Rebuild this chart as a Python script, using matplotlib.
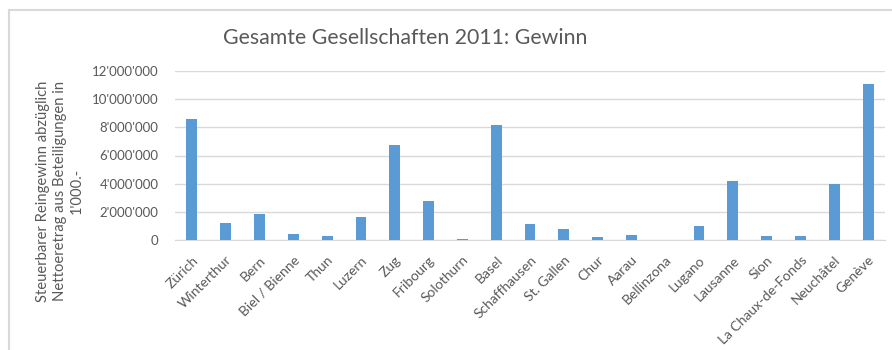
import matplotlib
matplotlib.use("Agg")
import matplotlib.pyplot as plt
from matplotlib.lines import Line2D
from matplotlib.ticker import FuncFormatter
from matplotlib.transforms import ScaledTranslation

# --- DATA ---
cities = ["Zürich", "Winterthur", "Bern", "Biel / Bienne", "Thun", "Luzern", "Zug",
          "Fribourg", "Solothurn", "Basel", "Schaffhausen", "St. Gallen", "Chur",
          "Aarau", "Bellinzona", "Lugano", "Lausanne", "Sion", "La Chaux-de-Fonds",
          "Neuchâtel", "Genève"]
gewinn = [8590000, 1180000, 1820000, 430000, 260000, 1630000, 6720000,
          2750000, 70000, 8170000, 1160000, 780000, 240000,
          360000, 0, 990000, 4170000, 280000, 310000,
          3950000, 11100000]
y_ticks = [0, 2000000, 4000000, 6000000, 8000000, 10000000, 12000000]

title = "Gesamte Gesellschaften 2011: Gewinn"
y_label = "Steuerbarer Reingewinn abzüglich\nNettoeretrag aus Beteiligungen in\n1'000.-"

plt.rcParams['font.family'] = ['Lato', 'DejaVu Sans']
text_grey = '#595959'
bar_blue = '#5B9BD5'
grid_grey = '#D9D9D9'

fig = plt.figure(figsize=(8.92, 3.5), dpi=100)
ax = fig.add_axes([175 / 892, 1 - 240 / 350, 710 / 892, 169 / 350])

x = range(len(cities))
ax.bar(x, gewinn, width=0.32, color=bar_blue, zorder=3)

ax.set_xlim(-0.5, len(cities) - 0.5)
ax.set_ylim(0, 12000000)
ax.set_yticks(y_ticks)
ax.yaxis.set_major_formatter(FuncFormatter(lambda v, p: f"{int(v):,}".replace(",", "'")))
ax.set_xticks(list(x))
ax.set_xticklabels(cities, rotation=45, ha='right', rotation_mode='anchor')
# nudge the slanted labels a little to the right, like Excel does
shift = ScaledTranslation(3.5 / 100, 0, fig.dpi_scale_trans)
for lbl in ax.get_xticklabels():
    lbl.set_transform(lbl.get_transform() + shift)

ax.grid(axis='y', color=grid_grey, linewidth=1, zorder=0)
for s in ['top', 'right', 'left']:
    ax.spines[s].set_visible(False)
ax.spines['bottom'].set_color(grid_grey)
ax.tick_params(axis='both', length=0, colors=text_grey)
ax.tick_params(axis='y', pad=12, labelsize=9.5)
ax.tick_params(axis='x', pad=10, labelsize=10)

fig.text(405 / 892, 1 - 38 / 350, title, ha='center', va='center',
         fontsize=15.3, color=text_grey)
fig.text(60 / 892, 1 - 191 / 350, y_label, ha='center', va='center',
         rotation=90, fontsize=10.6, color=text_grey, multialignment='center',
         linespacing=1.25)

# chart frame (runs off the right and bottom edges)
fig.add_artist(Line2D([9 / 892, 1.1], [1 - 10 / 350, 1 - 10 / 350],
                      color=grid_grey, linewidth=1.5, transform=fig.transFigure))
fig.add_artist(Line2D([9 / 892, 9 / 892], [1 - 10 / 350, -0.1],
                      color=grid_grey, linewidth=1.5, transform=fig.transFigure))

fig.savefig("out.png", dpi=100)
